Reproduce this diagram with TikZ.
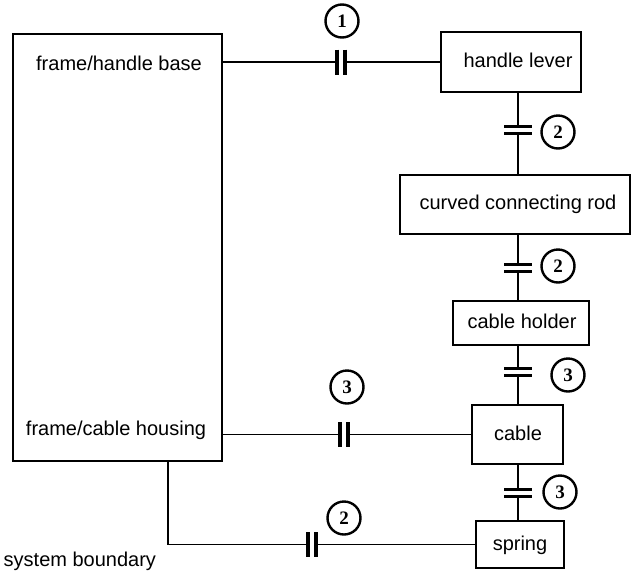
\documentclass[tikz,border=0pt]{standalone}
\usepackage{fontspec}
\setmainfont{Liberation Sans}
\newfontfamily\numfont{Liberation Serif}
\begin{document}
\begin{tikzpicture}[x=1pt,y=-1pt,line width=1.4pt,
  box/.style={draw,line width=1.5pt,inner sep=0pt},
  lbl/.style={font=\fontsize{20}{22}\selectfont,inner sep=0pt,anchor=base},
  num/.style={circle,draw,line width=2.4pt,minimum size=33pt,inner sep=0pt,
    font=\numfont\bfseries\fontsize{19}{20}\selectfont},
  hcap/.pic={\fill[white] (-3,-8) rectangle (3,8);
    \draw[line width=3.5pt] (-4,-12.5) -- (-4,12.5) (4,-12.5) -- (4,12.5);},
  vcap/.pic={\fill[white] (-8,-2.5) rectangle (8,2.5);
    \draw[line width=3.2pt] (-14,-3.5) -- (14,-3.5) (-14,3.5) -- (14,3.5);}
]
\useasboundingbox (0,0) rectangle (635,582);

% boxes
\node[box,minimum width=209pt,minimum height=427pt] (frame) at (117.5,247.5) {};
\node[lbl] (fhb) at (119,70) {frame/handle base};
\node[lbl] (fch) at (116,435) {frame/cable housing};

\node[box,minimum width=140pt,minimum height=60pt] (hl) at (511,62) {};
\node[lbl] (hlt) at (518,67) {handle lever};
\node[box,minimum width=230pt,minimum height=59pt] (rod) at (515,204.5) {};
\node[lbl] (rodt) at (518,209) {curved connecting rod};
\node[box,minimum width=136pt,minimum height=44pt] (ch) at (521,323) {};
\node[lbl] (cht) at (522,328) {cable holder};
\node[box,minimum width=91pt,minimum height=59pt] (cab) at (517.5,434.5) {};
\node[lbl] (cabt) at (518,440) {cable};
\node[box,minimum width=88pt,minimum height=47pt] (spr) at (520,544.5) {};
\node[lbl] (sprt) at (520,550) {spring};

\node[lbl,anchor=base west] (sb) at (3,566) {system boundary};

% connectors
\coordinate (ax) at (518,0);
\coordinate (dn) at (168,461);
\draw (hl.west) -- (hl.west -| frame.east);
\draw (hl.south -| ax) -- (rod.north -| ax);
\draw (rod.south -| ax) -- (ch.north -| ax);
\draw (ch.south -| ax) -- (cab.north -| ax);
\draw (cab.south -| ax) -- (spr.north -| ax);
\draw (cab.west) -- (cab.west -| frame.east);
\draw (dn) |- (spr.west);

% couplings
\pic at (341,62) {hcap};
\pic at (344,434.5) {hcap};
\pic at (312,544.5) {hcap};
\pic at (518,130) {vcap};
\pic at (518,268) {vcap};
\pic at (518,372) {vcap};
\pic at (518,493) {vcap};

% numbers
\node[num] (n1) at (342,21) {1};
\node[num] (n2a) at (558,132) {2};
\node[num] (n2b) at (558,266) {2};
\node[num] (n3a) at (568,375) {3};
\node[num] (n3b) at (560,492) {3};
\node[num] (n3c) at (347,387) {3};
\node[num] (n2c) at (344,518) {2};
\end{tikzpicture}
\end{document}
